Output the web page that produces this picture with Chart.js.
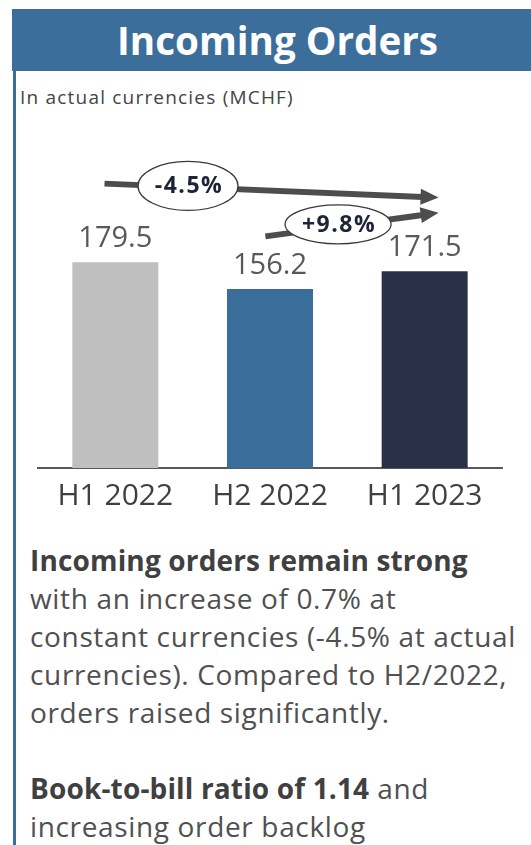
<!DOCTYPE html>
<html>
<head>
<meta charset="utf-8">
<script src="https://cdn.jsdelivr.net/npm/chart.js@4.4.0/dist/chart.umd.min.js"></script>
<style>
  html, body { margin: 0; padding: 0; background: #fff; }
  body { width: 531px; height: 845px; position: relative; overflow: hidden; font-family: "Open Sans", sans-serif; }
  #titlebar { position: absolute; left: 12px; top: 9px; width: 519px; height: 62px; background: #3c6e9c; }
  #title { position: absolute; left: 0; width: 555px; top: 9px; text-align: center; color: #fff; font-weight: 700; font-size: 38.6px; line-height: 62px; white-space: nowrap; }
  #leftbar { position: absolute; left: 13px; top: 71px; width: 3px; height: 774px; background: #3c6e9c; }
  #subtitle { position: absolute; left: 20px; top: 86px; font-size: 19px; letter-spacing: 1.2px; color: #444; white-space: nowrap; line-height: 22px; }
  #wrap { position: absolute; left: 0; top: 110px; width: 531px; height: 420px; }
  #notes { position: absolute; left: 30px; top: 541px; font-size: 28px; letter-spacing: 0.65px; line-height: 38px; color: #505050; white-space: nowrap; }
  #notes b { color: #404040; font-weight: 700; letter-spacing: 0.15px; }
</style>
</head>
<body>
<div id="titlebar"></div>
<div id="title">Incoming Orders</div>
<div id="leftbar"></div>
<div id="subtitle">In actual currencies (MCHF)</div>
<div id="wrap"><canvas id="c" width="531" height="420"></canvas></div>
<div id="notes">
<b>Incoming orders remain strong</b><br>
with an increase of 0.7% at<br>
constant currencies (-4.5% at actual<br>
currencies). Compared to H2/2022,<br>
orders raised significantly.<br>
<br>
<b>Book-to-bill ratio of 1.14</b> and<br>
increasing order backlog
</div>
<script>
const categories = ["H1 2022", "H2 2022", "H1 2023"];
const values = [179.5, 156.2, 171.5];
const barColors = ["#bfbfbf", "#3a6d9a", "#2b3049"];
const changeLabels = ["-4.5%", "+9.8%"];
// arrow annotations in (category index, value) units
const changeFrom = [[-0.07, 248], [0.97, 202]];
const changeTo = [[2.09, 235.8], [2.09, 222.6]];
const changeBubble = [[0.47, 246, 50, 24.5], [1.44, 212.5, 53, 19.5]];

const fontFam = "'Open Sans', sans-serif";

const annotPlugin = {
  id: 'annot',
  afterDatasetsDraw(chart) {
    const ctx = chart.ctx;
    const xs = chart.scales.x, ys = chart.scales.y;
    const x0 = xs.getPixelForValue(0), step = xs.getPixelForValue(1) - x0;
    const px = i => x0 + i * step;
    const meta = chart.getDatasetMeta(0);
    ctx.save();
    ctx.font = "29px " + fontFam;
    ctx.fillStyle = "#595959";
    ctx.textAlign = "center";
    ctx.textBaseline = "alphabetic";
    meta.data.forEach((bar, i) => {
      ctx.fillText(values[i].toFixed(1), bar.x, bar.y - 15);
    });
    ctx.strokeStyle = "#4d4d4d";
    ctx.fillStyle = "#4d4d4d";
    ctx.lineWidth = 6;
    for (let k = 0; k < changeLabels.length; k++) {
      const ax = px(changeFrom[k][0]), ay = ys.getPixelForValue(changeFrom[k][1]);
      const bx = px(changeTo[k][0]), by = ys.getPixelForValue(changeTo[k][1]);
      const ang = Math.atan2(by - ay, bx - ax);
      const hl = 18, hw = 8;
      const ex = bx - hl * Math.cos(ang), ey = by - hl * Math.sin(ang);
      ctx.beginPath();
      ctx.moveTo(ax, ay);
      ctx.lineTo(ex + 2 * Math.cos(ang), ey + 2 * Math.sin(ang));
      ctx.stroke();
      ctx.beginPath();
      ctx.moveTo(bx, by);
      ctx.lineTo(ex - hw * Math.sin(ang), ey + hw * Math.cos(ang));
      ctx.lineTo(ex + hw * Math.sin(ang), ey - hw * Math.cos(ang));
      ctx.closePath();
      ctx.fill();
    }
    for (let k = 0; k < changeLabels.length; k++) {
      const cx = px(changeBubble[k][0]), cy = ys.getPixelForValue(changeBubble[k][1]);
      ctx.beginPath();
      ctx.ellipse(cx, cy, changeBubble[k][2], changeBubble[k][3], 0, 0, Math.PI * 2);
      ctx.fillStyle = "#ffffff";
      ctx.fill();
      ctx.lineWidth = 1.3;
      ctx.strokeStyle = "#3a3a3a";
      ctx.stroke();
      ctx.fillStyle = "#1f2337";
      ctx.font = "bold 23px " + fontFam;
      ctx.letterSpacing = "1.5px";
      ctx.textAlign = "center";
      ctx.textBaseline = "middle";
      ctx.fillText(changeLabels[k], cx + 1, cy + 1);
      ctx.letterSpacing = "0px";
    }
    ctx.restore();
  }
};

new Chart(document.getElementById('c'), {
  type: 'bar',
  data: {
    labels: categories,
    datasets: [{ data: values, backgroundColor: barColors, barPercentage: 0.556, categoryPercentage: 1.0 }]
  },
  options: {
    responsive: false,
    animation: false,
    layout: { padding: { top: 14, left: 38, right: 29, bottom: 6 } },
    plugins: { legend: { display: false }, tooltip: { enabled: false } },
    scales: {
      x: {
        grid: { display: false, drawTicks: false },
        border: { display: true, color: "#595959", width: 2 },
        ticks: { color: "#404040", font: { family: fontFam, size: 30 }, padding: 10 }
      },
      y: { display: false, min: 0, max: 300 }
    }
  },
  plugins: [annotPlugin]
});
</script>
</body>
</html>
